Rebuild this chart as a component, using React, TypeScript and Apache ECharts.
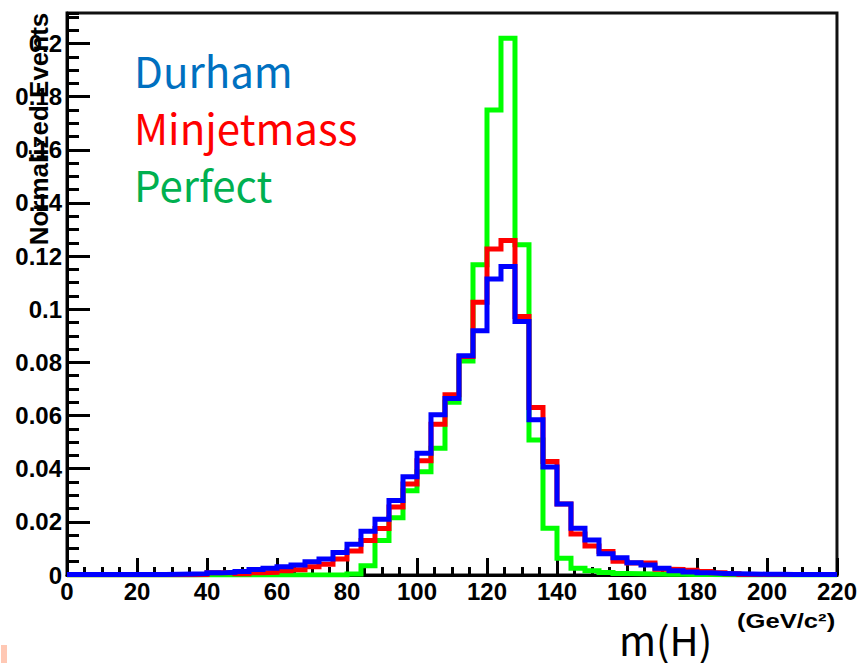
import React, { useEffect, useRef } from "react";
import * as echarts from "echarts";

// Histogram: m(H) in bins of 4 GeV/c^2 from 0 to 220
const binWidth = 4;
const xMin = 0;
const xMax = 220;
const yMax = 0.2115;

const durham = [
  0.0002, 0.0002, 0.0002, 0.0002, 0.0002, 0.0002, 0.0002, 0.0003, 0.0004, 0.0005,
  0.0008, 0.0010, 0.0013, 0.0021, 0.0025, 0.0031, 0.0038, 0.0050, 0.0060, 0.0085,
  0.0116, 0.0165, 0.0210, 0.0280, 0.0370, 0.0458, 0.0603, 0.0664, 0.0825, 0.0919,
  0.1114, 0.1161, 0.0954, 0.0584, 0.0406, 0.0267, 0.0176, 0.0132, 0.0080, 0.0065,
  0.0046, 0.0038, 0.0025, 0.0016, 0.0011, 0.0008, 0.0006, 0.0005, 0.0004, 0.0003,
  0.0003, 0.0002, 0.0002, 0.0002, 0.0002,
];

const minjetmass = [
  0.0001, 0.0001, 0.0001, 0.0001, 0.0001, 0.0001, 0.0001, 0.0001, 0.0001, 0.0002,
  0.0008, 0.0008, 0.0005, 0.0008, 0.0010, 0.0016, 0.0020, 0.0031, 0.0040, 0.0060,
  0.0090, 0.0130, 0.0175, 0.0256, 0.0342, 0.0430, 0.0567, 0.0678, 0.0822, 0.1026,
  0.1227, 0.1259, 0.0973, 0.0630, 0.0427, 0.0267, 0.0154, 0.0109, 0.0088, 0.0052,
  0.0045, 0.0045, 0.0022, 0.0021, 0.0018, 0.0013, 0.0008, 0.0005, 0.0002, 0.0002,
  0.0002, 0.0002, 0.0002, 0.0002, 0.0002,
];

const perfect = [
  0, 0, 0, 0, 0, 0, 0, 0, 0, 0,
  0, 0, 0, 0, 0, 0, 0, 0, 0, 0,
  0.0004, 0.0035, 0.0130, 0.0215, 0.0317, 0.0389, 0.0477, 0.0650, 0.0805, 0.1168,
  0.1750, 0.2020, 0.1243, 0.0508, 0.0176, 0.0063, 0.0025, 0.0016, 0.0009, 0.0006,
  0.0005, 0.0004, 0.0003, 0.0003, 0.0002, 0.0002, 0.0001, 0, 0, 0,
  0, 0, 0, 0, 0,
];

const legendLabels = ["Durham", "Minjetmass", "Perfect"];
const yTitle = "Normalized Events";
const xTitle = "m(H)";
const xUnit = "(GeV/c\u00B2)";

function toSteps(values: number[]): number[][] {
  const pts = values.map((v, i) => [xMin + i * binWidth, v]);
  pts.push([xMin + values.length * binWidth, values[values.length - 1]]);
  return pts;
}

export default function App() {
  const ref = useRef<HTMLDivElement>(null);

  useEffect(() => {
    if (!ref.current) return;
    const chart = echarts.init(ref.current, null, { renderer: "svg" });
    const axisFont = {
      fontFamily: "'Liberation Sans', Arial, sans-serif",
      fontWeight: "bold" as const,
      fontSize: 24,
      color: "#000",
    };
    const histSeries = (name: string, data: number[], color: string, z: number) => ({
      name,
      type: "line",
      step: "end",
      data: toSteps(data),
      showSymbol: false,
      symbol: "none",
      z,
      lineStyle: { color, width: 5, join: "miter", cap: "butt" },
      clip: true,
    });
    const legendText = (text: string, y: number, fill: string) => ({
      type: "text",
      x: 134,
      y,
      z: 10,
      style: {
        text,
        fontFamily: "'Noto Sans CJK JP', 'Noto Sans', sans-serif",
        fontSize: 42,
        fill,
        align: "left",
        verticalAlign: "middle",
      },
    });

    chart.setOption({
      animation: false,
      backgroundColor: "#fff",
      grid: {
        left: 67,
        right: 23,
        top: 13,
        bottom: 88,
        show: true,
        borderColor: "#111",
        borderWidth: 3,
        backgroundColor: "transparent",
      },
      xAxis: {
        type: "value",
        min: xMin,
        max: xMax,
        interval: 20,
        axisLine: { show: true, lineStyle: { color: "#000", width: 3 } },
        axisTick: { show: true, inside: true, length: 17, lineStyle: { color: "#000", width: 3 } },
        minorTick: { show: true, splitNumber: 4, length: 8, lineStyle: { color: "#000", width: 3 } },
        splitLine: { show: false },
        minorSplitLine: { show: false },
        axisLabel: { ...axisFont, margin: 4 },
      },
      yAxis: [
        {
          type: "value",
          min: 0,
          max: yMax,
          interval: 0.02,
          axisLine: { show: true, lineStyle: { color: "#000", width: 3 } },
          axisTick: { show: true, inside: true, length: 23, lineStyle: { color: "#000", width: 3 } },
          splitLine: { show: false },
          axisLabel: { ...axisFont, margin: 5, showMaxLabel: false },
        },
        {
          type: "value",
          position: "left",
          min: 0,
          max: yMax,
          interval: 0.005,
          axisLine: { show: false },
          axisTick: { show: true, inside: true, length: 12, lineStyle: { color: "#000", width: 3 } },
          splitLine: { show: false },
          axisLabel: { show: false },
        },
      ],
      series: [
        histSeries(legendLabels[2], perfect, "#00ff00", 3),
        histSeries(legendLabels[1], minjetmass, "#ff0000", 4),
        histSeries(legendLabels[0], durham, "#0000ff", 5),
      ],
      graphic: [
        {
          type: "text",
          x: 39,
          y: 129,
          rotation: Math.PI / 2,
          z: 10,
          style: {
            text: yTitle,
            fontFamily: "'Liberation Sans', Arial, sans-serif",
            fontWeight: "bold",
            fontSize: 26,
            fill: "#000",
            align: "center",
            verticalAlign: "middle",
          },
        },
        legendText(legendLabels[0], 69, "#0070c0"),
        legendText(legendLabels[1], 126, "#ff0000"),
        legendText(legendLabels[2], 183, "#00b050"),
        {
          type: "text",
          x: 619,
          y: 639,
          z: 10,
          style: {
            text: xTitle,
            fontFamily: "'Noto Sans CJK JP', 'Noto Sans', sans-serif",
            fontSize: 40,
            fill: "#000",
            align: "left",
            verticalAlign: "middle",
          },
        },
        {
          type: "text",
          x: 737,
          y: 621,
          scaleX: 1.22,
          z: 10,
          style: {
            text: xUnit,
            fontFamily: "'Liberation Sans', Arial, sans-serif",
            fontWeight: "bold",
            fontSize: 21,
            fill: "#000",
            align: "left",
            verticalAlign: "middle",
          },
        },
        {
          type: "rect",
          shape: { x: 1, y: 645, width: 6, height: 18 },
          style: { fill: "#ffc8b4" },
        },
      ],
    });
    return () => chart.dispose();
  }, []);

  return (
    <div
      ref={ref}
      style={{ position: "fixed", left: 0, top: 0, width: 860, height: 663, background: "#fff" }}
    />
  );
}
